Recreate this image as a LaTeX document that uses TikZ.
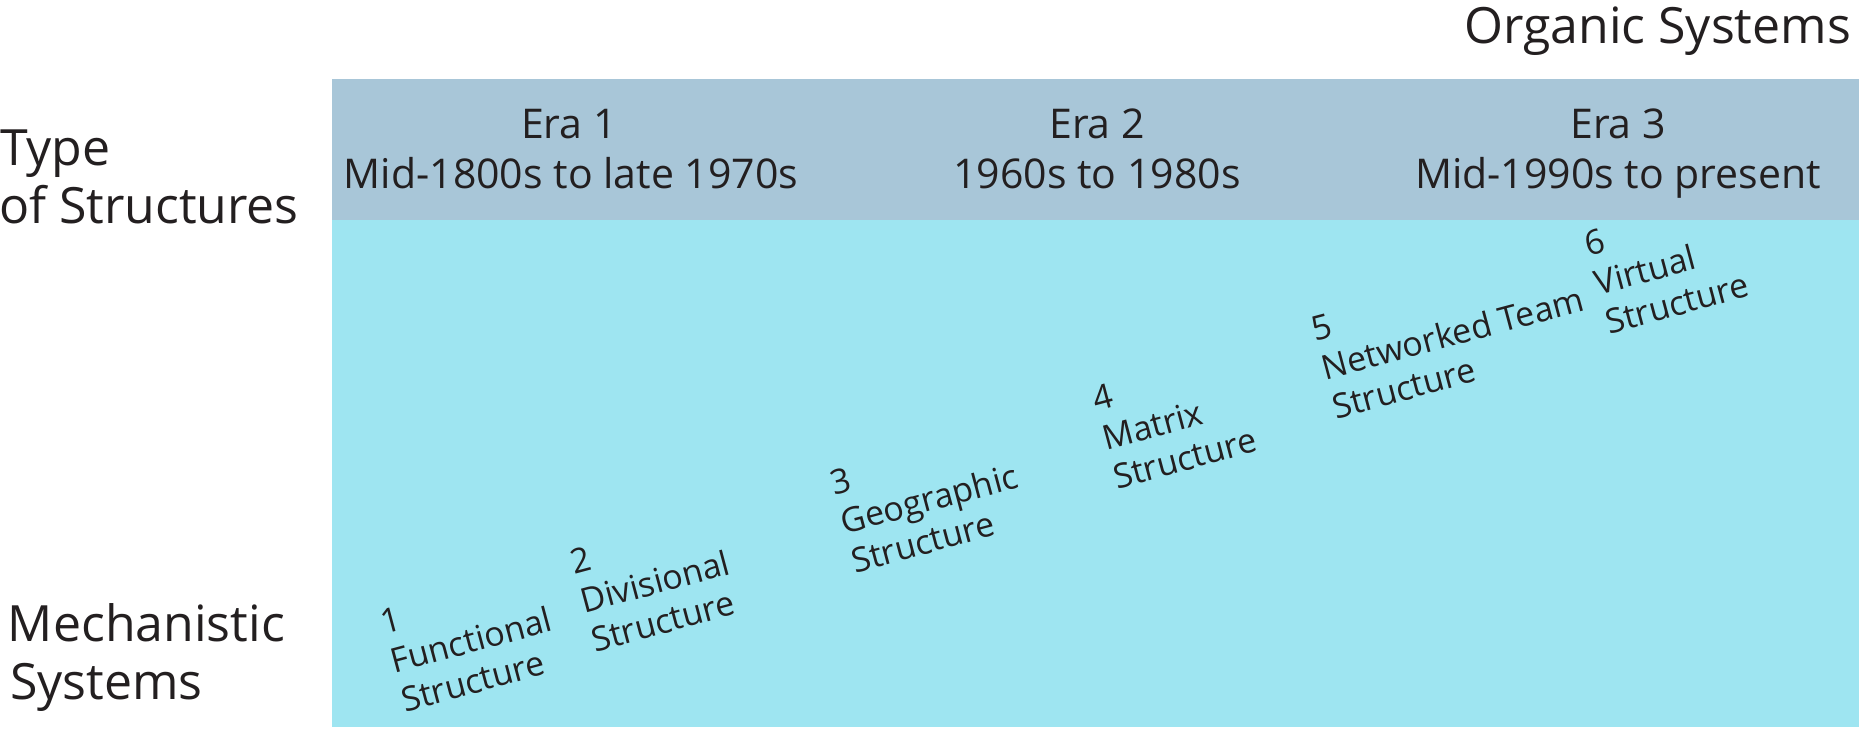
\documentclass[tikz,border=0pt]{standalone}
\usepackage{fontspec}
\setmainfont{Open Sans}
\definecolor{hdrcol}{HTML}{A8C6D8}
\definecolor{bdycol}{HTML}{9EE5F1}
\definecolor{inkcol}{HTML}{231F20}
\begin{document}
\begin{tikzpicture}[x=1pt,y=-1pt,
  every node/.style={inner sep=0pt, outer sep=0pt, text=inkcol},
  bigtxt/.style={font=\fontsize{50pt}{58pt}\selectfont},
  eratxt/.style={font=\fontsize{41pt}{50pt}\selectfont, anchor=base},
  lbltxt/.style={font=\fontsize{34pt}{40pt}\selectfont, anchor=base west}]
\useasboundingbox (0,0) rectangle (1859,739);
% panels
\fill[hdrcol] (332,79) rectangle (1859,220);
\fill[bdycol] (332,220) rectangle (1859,727);
% side labels
\node[bigtxt, anchor=base east] (org) at (1851,43) {Organic Systems};
\node[bigtxt, anchor=base west] (type1) at (0,165) {Type};
\node[bigtxt, anchor=base west] (type2) at (-1,223) {of Structures};
\node[bigtxt, anchor=base west] (mech1) at (8,641) {Mechanistic};
\node[bigtxt, anchor=base west] (mech2) at (10,699) {Systems};
% eras
\node[eratxt] (e1a) at (569,138) {Era 1};
\node[eratxt] (e1b) at (571,188) {Mid-1800s to late 1970s};
\node[eratxt] (e2a) at (1097,138) {Era 2};
\node[eratxt] (e2b) at (1097,188) {1960s to 1980s};
\node[eratxt] (e3a) at (1618,138) {Era 3};
\node[eratxt] (e3b) at (1618,188) {Mid-1990s to present};
% structures
\begin{scope}[shift={(405,712)}, rotate=15, transform shape]
  \node[lbltxt] (n1) at (0,-80) {1};
  \node[lbltxt] (a1) at (0,-40) {Functional};
  \node[lbltxt] (b1) at (0,0) {Structure};
\end{scope}
\begin{scope}[shift={(595,652)}, rotate=15, transform shape]
  \node[lbltxt] (n2) at (0,-80) {2};
  \node[lbltxt] (a2) at (0,-40) {Divisional};
  \node[lbltxt] (b2) at (0,0) {Structure};
\end{scope}
\begin{scope}[shift={(855,573)}, rotate=15, transform shape]
  \node[lbltxt] (n3) at (0,-80) {3};
  \node[lbltxt] (a3) at (0,-40) {Geographic};
  \node[lbltxt] (b3) at (0,0) {Structure};
\end{scope}
\begin{scope}[shift={(1117,489)}, rotate=15, transform shape]
  \node[lbltxt] (n4) at (0,-80) {4};
  \node[lbltxt] (a4) at (0,-40) {Matrix};
  \node[lbltxt] (b4) at (0,0) {Structure};
\end{scope}
\begin{scope}[shift={(1336,419)}, rotate=15, transform shape]
  \node[lbltxt] (n5) at (0,-80) {5};
  \node[lbltxt] (a5) at (0,-40) {Networked Team};
  \node[lbltxt] (b5) at (0,0) {Structure};
\end{scope}
\begin{scope}[shift={(1609,334)}, rotate=15, transform shape]
  \node[lbltxt] (n6) at (0,-80) {6};
  \node[lbltxt] (a6) at (0,-40) {Virtual};
  \node[lbltxt] (b6) at (0,0) {Structure};
\end{scope}
\end{tikzpicture}
\end{document}
